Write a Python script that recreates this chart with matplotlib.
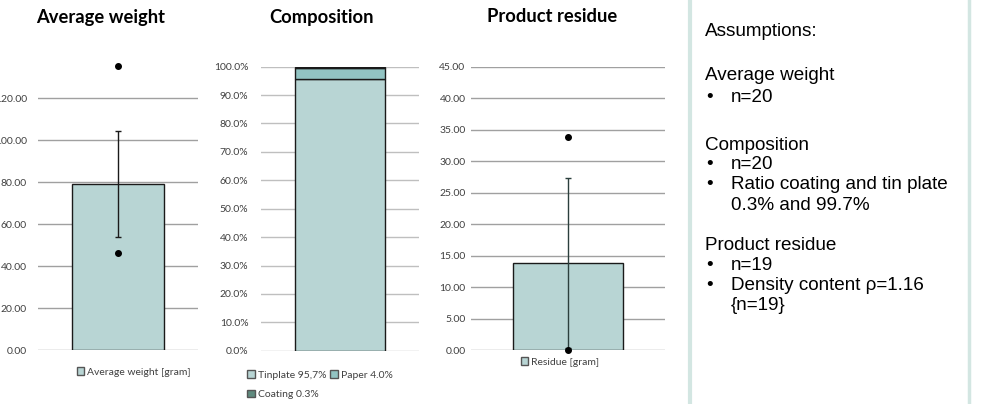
import matplotlib.pyplot as plt
from matplotlib.patches import Patch
from matplotlib.ticker import FuncFormatter

plt.rcParams['font.family'] = ['Lato', 'DejaVu Sans']

# dati
weight_mean = 79.0
weight_sd = 25.2
weight_points = [46.2, 135.1]
weight_ticks = [0, 20, 40, 60, 80, 100, 120]

comp_labels = ['Tinplate 95,7%', 'Paper 4.0%', 'Coating 0.3%']
comp_values = [0.957, 0.040, 0.003]
comp_ticks = [0.0, 0.1, 0.2, 0.3, 0.4, 0.5, 0.6, 0.7, 0.8, 0.9, 1.0]

residue_mean = 13.78
residue_sd = 13.5
residue_points = [0.0, 33.9]
residue_ticks = [0, 5, 10, 15, 20, 25, 30, 35, 40, 45]

# (testo, tipo): 'h' intestazione, 'b' punto elenco, 'c' continuazione
assumptions = [
    ('Assumptions:', 'h'),
    ('Average weight', 'h'),
    ('n=20', 'b'),
    ('Composition', 'h'),
    ('n=20', 'b'),
    ('Ratio coating and tin plate', 'b'),
    ('0.3% and 99.7%', 'c'),
    ('Product residue', 'h'),
    ('n=19', 'b'),
    ('Density content \u03c1=1.16', 'b'),
    ('{n=19}', 'c'),
]
# spazio verticale (px) prima di ogni riga
line_gaps = [0, 45, 22, 47, 20, 20, 20, 41, 20, 20, 20]

bar_color = '#b8d5d4'
comp_colors = ['#b8d5d4', '#92c4c3', '#5f8a7e']
grid_color = '#a0a0a0'
W, H = 992, 404

fig = plt.figure(figsize=(W / 100, H / 100), dpi=100)


def make_axes(x0, x1, ybot, ytop):
    ax = fig.add_axes([x0 / W, (H - ybot) / H, (x1 - x0) / W, (ybot - ytop) / H])
    for s in ax.spines.values():
        s.set_visible(False)
    ax.set_xlim(-0.5, 0.5)
    ax.set_xticks([])
    ax.tick_params(axis='y', length=0, labelsize=7.5, colors='#404040')
    ax.yaxis.grid(True, color=grid_color, linewidth=1)
    ax.set_axisbelow(True)
    return ax


def title(xc, text):
    fig.text(xc / W, 1 - 17 / H, text, ha='center', va='center',
             fontsize=13.2, fontweight='bold', color='black')


legend_kw = dict(frameon=False, fontsize=7.5, handlelength=0.7, handleheight=0.7,
                 handletextpad=0.3, borderpad=0, labelcolor='#404040')

# Average weight
ax1 = make_axes(38, 198, 350, 56)
ax1.set_ylim(0, 140)
ax1.set_yticks(weight_ticks)
ax1.yaxis.set_major_formatter(FuncFormatter(lambda v, p: f'{v:.2f}'))
ax1.tick_params(axis='y', pad=8)
ax1.bar(0, weight_mean, width=0.57, color=bar_color, edgecolor='#1a1a1a', linewidth=1, zorder=2)
ax1.errorbar(0, weight_mean, yerr=weight_sd, color='#1a1a1a', capsize=2.5, elinewidth=1,
             capthick=1, zorder=3)
ax1.plot([0] * len(weight_points), weight_points, 'o', color='black', markersize=4, zorder=4)
title(101, 'Average weight')
fig.legend(handles=[Patch(facecolor=bar_color, edgecolor='#555555', label='Average weight [gram]')],
           loc='center', bbox_to_anchor=(134 / W, 1 - 372 / H), **legend_kw)

# Composition
ax2 = make_axes(261, 419, 350.7, 66.7)
ax2.set_ylim(0, 1.0)
ax2.set_yticks(comp_ticks)
ax2.yaxis.set_major_formatter(FuncFormatter(lambda v, p: f'{v * 100:.1f}%'))
ax2.tick_params(axis='y', pad=9)
ax2.yaxis.grid(True, color='#bfbfbf', linewidth=1)
bottom = 0
for lab, val, col in zip(comp_labels, comp_values, comp_colors):
    ax2.bar(0, val, bottom=bottom, width=0.57, color=col, edgecolor='#1a1a1a',
            linewidth=1, zorder=2, label=lab)
    bottom += val
title(321, 'Composition')
h = [Patch(facecolor=c, edgecolor='#555555', label=l) for l, c in zip(comp_labels, comp_colors)]
fig.legend(handles=[h[0], h[2], h[1]], ncol=2, loc='upper left',
           bbox_to_anchor=(242 / W, 1 - 365 / H), columnspacing=0.4,
           labelspacing=1.0, **legend_kw)

# Product residue
ax3 = make_axes(471, 665, 350, 66.7)
ax3.set_ylim(0, 45)
ax3.set_yticks(residue_ticks)
ax3.yaxis.set_major_formatter(FuncFormatter(lambda v, p: f'{v:.2f}'))
ax3.tick_params(axis='y', pad=4)
ax3.bar(0, residue_mean, width=0.572, color=bar_color, edgecolor='#1a1a1a', linewidth=1, zorder=2)
ax3.errorbar(0, residue_mean, yerr=residue_sd, color='#2b3f3d', capsize=2.5, elinewidth=1,
             capthick=1, zorder=3)
ax3.plot([0] * len(residue_points), residue_points, 'o', color='black', markersize=4,
         zorder=4, clip_on=False)
title(552, 'Product residue')
fig.legend(handles=[Patch(facecolor=bar_color, edgecolor='#555555', label='Residue [gram]')],
           loc='center', bbox_to_anchor=(560 / W, 1 - 362 / H), **legend_kw)

# pannello ipotesi
fig.add_artist(plt.Line2D([690 / W, 690 / W], [0, 1], color='#d3e6e2', linewidth=3))
fig.add_artist(plt.Line2D([969 / W, 969 / W], [0, 1], color='#d3e6e2', linewidth=2.5))
txt_kw = dict(ha='left', va='center', fontsize=13.6, family='Liberation Sans', color='black')
y = 31
for (text, kind), gap in zip(assumptions, line_gaps):
    y += gap
    if kind == 'h':
        fig.text(705 / W, 1 - y / H, text, **txt_kw)
    else:
        if kind == 'b':
            fig.text(706 / W, 1 - y / H, '\u2022', **txt_kw)
        fig.text(731 / W, 1 - y / H, text, **txt_kw)

fig.savefig('out.png', dpi=100)
